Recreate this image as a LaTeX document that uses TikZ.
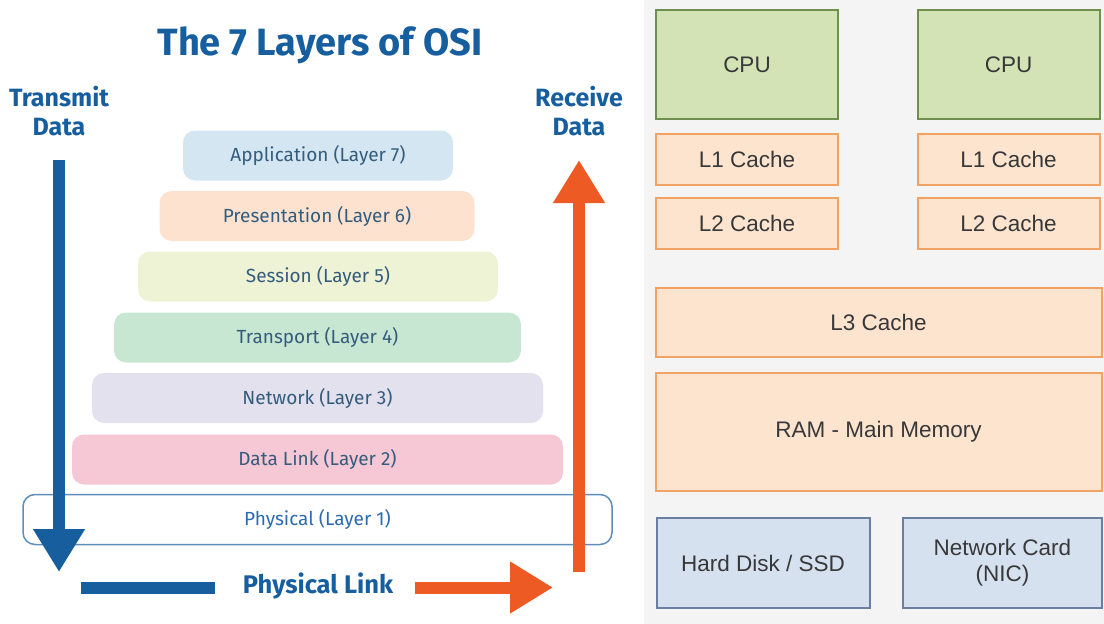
\documentclass[tikz,border=0pt]{standalone}
\usepackage{fontspec}
\setmainfont{Liberation Sans}
\newfontfamily\osifont{Fira Sans}
\usetikzlibrary{arrows.meta, positioning}

\definecolor{osiblue}{HTML}{175E9E}
\definecolor{osiorange}{HTML}{EE5A24}
\definecolor{layertxt}{HTML}{345C7C}
\definecolor{appfill}{HTML}{D5E6F3}
\definecolor{presfill}{HTML}{FDE3CF}
\definecolor{sessfill}{HTML}{EEF3D6}
\definecolor{transfill}{HTML}{C8E7D2}
\definecolor{netfill}{HTML}{E2E1ED}
\definecolor{dlinkfill}{HTML}{F6C7D5}
\definecolor{physline}{HTML}{5F8DBB}
\definecolor{phystxt}{HTML}{2C6CAE}
\definecolor{panelgray}{HTML}{F4F4F4}
\definecolor{cpufill}{HTML}{D4E3B6}
\definecolor{cpuline}{HTML}{6E8F4E}
\definecolor{cachefill}{HTML}{FDE4CF}
\definecolor{cacheline}{HTML}{F2A263}
\definecolor{iofill}{HTML}{D6E1F0}
\definecolor{ioline}{HTML}{6A7FA0}

\begin{document}
\begin{tikzpicture}[x=1pt, y=-1pt,
  layer/.style={rounded corners=12pt, minimum height=50pt, text=layertxt,
    font=\osifont\fontsize{19}{21}\selectfont},
  sidelabel/.style={text=osiblue, align=center, font=\osifont\bfseries\fontsize{25}{29}\selectfont},
  hwbox/.style={draw, line width=2pt, text=black!78, align=center,
    font=\fontsize{22.5}{26}\selectfont},
  cpu/.style={hwbox, fill=cpufill, draw=cpuline, minimum width=182pt, minimum height=109pt},
  cache/.style={hwbox, fill=cachefill, draw=cacheline},
  io/.style={hwbox, fill=iofill, draw=ioline, minimum height=90pt},
  fatarrow/.style={line width=12pt, -{Triangle[width=49pt, length=43pt]}}]
\useasboundingbox (0,0) rectangle (1104,624);
\fill[panelgray] (644,0) rectangle (1104,624);

% OSI title and side labels
\node[text=osiblue, font=\osifont\bfseries\fontsize{38}{40}\selectfont] (title) at (320,45) {The 7 Layers of OSI};
\node[sidelabel] (tx) at (59,111) {Transmit\\Data};
\node[sidelabel] (rx) at (579,111) {Receive\\Data};

% layer stack
\node[layer, fill=appfill, minimum width=270pt] (app) at (318,155.5) {Application (Layer 7)};
\node[layer, fill=presfill, minimum width=315pt] (pres) at (317,216) {Presentation (Layer 6)};
\node[layer, fill=sessfill, minimum width=360pt] (sess) at (318,276.5) {Session (Layer 5)};
\node[layer, fill=transfill, minimum width=407pt] (trans) at (317.5,337.5) {Transport (Layer 4)};
\node[layer, fill=netfill, minimum width=451pt] (net) at (317.5,398) {Network (Layer 3)};
\node[layer, fill=dlinkfill, minimum width=491pt] (dlink) at (317.5,459.5) {Data Link (Layer 2)};
\node[layer, draw=physline, line width=1.5pt, fill=white, text=phystxt,
  minimum width=589pt] (phys) at (317.5,519.5) {Physical (Layer 1)};

% data flow
\coordinate (txtop) at (59,160);
\coordinate (txbot) at (59,572);
\coordinate (rxbot) at (579,572);
\coordinate (rxtop) at (579,160);
\coordinate (barL) at (81,587.5);
\coordinate (barR) at (215,587.5);
\coordinate (linkA) at (415,587.5);
\coordinate (linkB) at (553,587.5);
\node[text=osiblue, font=\osifont\bfseries\fontsize{25.5}{28}\selectfont] (plink) at (318,586) {Physical Link};
\draw[fatarrow, osiblue] (txtop) -- (txbot);
\draw[fatarrow, osiorange] (rxbot) -- (rxtop);
\draw[line width=12pt, osiblue] (barL) -- (barR);
\draw[fatarrow, osiorange] (linkA) -- (linkB);

% memory hierarchy
\node[cpu] (cpuA) at (747,64.5) {CPU};
\node[cpu] (cpuB) at (1008.5,64.5) {CPU};
\node[cache, minimum width=182pt, minimum height=51pt] (l1a) at (747,159.5) {L1 Cache};
\node[cache, minimum width=182pt, minimum height=51pt] (l1b) at (1008.5,159.5) {L1 Cache};
\node[cache, minimum width=182pt, minimum height=51pt] (l2a) at (747,223.5) {L2 Cache};
\node[cache, minimum width=182pt, minimum height=51pt] (l2b) at (1008.5,223.5) {L2 Cache};
\node[cache, minimum width=446pt, minimum height=69pt] (l3) at (878.5,322) {L3 Cache};
\node[cache, minimum width=446pt, minimum height=118pt] (ram) at (878.5,432) {RAM - Main Memory};
\node[io, minimum width=213pt] (disk) at (763,563) {Hard Disk / SSD};
\node[io, minimum width=199pt] (nic) at (1002.5,563) {Network Card\\(NIC)};
\end{tikzpicture}
\end{document}
